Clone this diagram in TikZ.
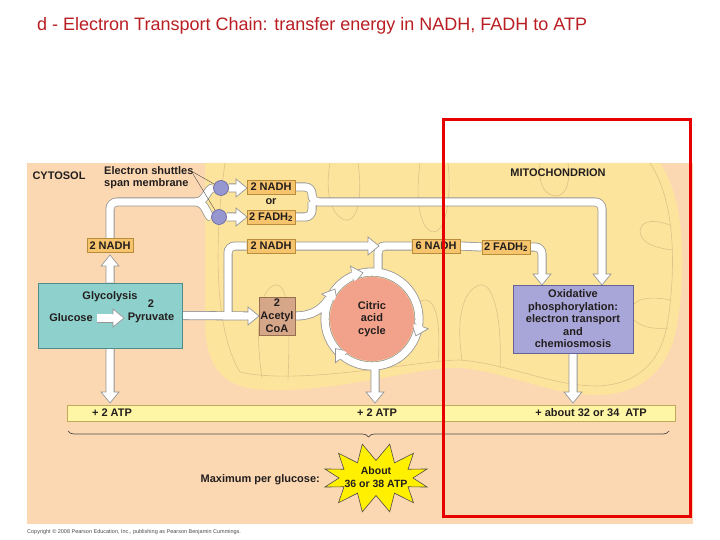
\documentclass[tikz,border=0pt]{standalone}
\usepackage{fontspec}
\setmainfont{Liberation Sans}
\usetikzlibrary{decorations.pathreplacing,calc}
\pgfdeclarelayer{back}
\pgfdeclarelayer{tubes}
\pgfsetlayers{back,tubes,main}
\definecolor{peach}{RGB}{251,216,178}
\definecolor{mito}{RGB}{253,228,156}
\definecolor{crista}{RGB}{222,194,135}
\definecolor{nadhfill}{RGB}{246,196,108}
\definecolor{nadhline}{RGB}{185,140,60}
\definecolor{acfill}{RGB}{214,166,136}
\definecolor{acline}{RGB}{150,110,80}
\definecolor{glyfill}{RGB}{142,208,204}
\definecolor{glyline}{RGB}{80,140,140}
\definecolor{oxfill}{RGB}{168,166,216}
\definecolor{oxline}{RGB}{100,98,150}
\definecolor{cacfill}{RGB}{242,162,138}
\definecolor{shutfill}{RGB}{150,150,208}
\definecolor{shutline}{RGB}{100,100,160}
\definecolor{atpfill}{RGB}{255,246,165}
\definecolor{atpline}{RGB}{190,170,90}
\definecolor{burst}{RGB}{255,240,0}
\definecolor{ink}{RGB}{35,30,30}
\definecolor{titlered}{RGB}{185,30,35}
\definecolor{boxred}{RGB}{230,0,0}
\definecolor{tubeline}{RGB}{150,150,150}
\newcommand\fathead[3]{%
  \begin{scope}[shift={({#1},{#2})},rotate=#3]
    \fill[white] (0.3,0) -- (-11,9) -- (-11,-9) -- cycle;
    \draw[tubeline,line width=0.7pt,line join=miter] (-11,3.7) -- (-11,9) -- (0,0) -- (-11,-9) -- (-11,-3.7);
  \end{scope}}
\newcommand\tubeset{
 (gly.north) -- (110,264)
 (nadhc.north) |- (200,202)
 (196,202) .. controls (206,202) and (207,188) .. (c1.west)
 (196,202) .. controls (206,202) and (207,217) .. (c2.west)
 (c1.east) -- (238,188)
 (c2.east) -- (238,217)
 (nadh1.east) -- (312,187) -- (312,202) -- (602,202) -- (602,276)
 (fadh1.east) -- (312,217) -- (312,202)
 (gly.east) -- (250,316)
 (228,316) -- (228,246) -- (nadh2.west)
 (nadh2.east) -- (370,246)
 (378,274) -- (378,246) -- (nadh6.west)
 (nadh6.east) -- (fadh2.west)
 (fadh2.east) -- (542,247) -- (542,276)
 (acoa.east) .. controls (313,316) and (322,309) .. (329.5,298)
 (372,319) circle[radius=47]
 (gly.south) -- (110,394)
 (375,364) -- (375,394)
 (ox.south) -- (573,394)
}
\tikzset{
 lbl/.style={font=\fontsize{11}{13}\selectfont\bfseries, text=ink, inner sep=0pt},
 nbox/.style={lbl, fill=nadhfill, draw=nadhline, line width=0.8pt, minimum width=48pt, minimum height=14pt},
 tubeo/.style={draw=tubeline, line width=9pt, rounded corners=7pt},
 tubei/.style={draw=white, line width=7.4pt, rounded corners=7pt},
 cristal/.style={draw=crista, line width=0.6pt},
 shuttle/.style={circle, fill=shutfill, draw=shutline, line width=0.6pt, minimum size=15pt, inner sep=0pt},
}
\begin{document}
\begin{tikzpicture}[x=1pt,y=-1pt]
\useasboundingbox (0,0) rectangle (720,540);

% ---------- nodes ----------
\node[anchor=west, font=\fontsize{18}{21}\selectfont, text=titlered, inner sep=0pt] (title) at (37,26) {d - Electron Transport Chain: transfer energy in NADH, FADH to ATP};
\node[lbl] (cyt) at (59,176) {CYTOSOL};
\node[lbl, anchor=west, align=left, font=\fontsize{11}{12}\selectfont\bfseries] (shut) at (104,178) {Electron shuttles\\span membrane};
\node[lbl] (mitolbl) at (558,173) {MITOCHONDRION};
\node[shuttle] (c1) at (221,188) {};
\node[shuttle] (c2) at (219,217) {};
\node[nbox] (nadh1) at (271,187) {2 NADH};
\node[lbl] (or) at (271,202) {or};
\node[nbox] (fadh1) at (271,217) {2 FADH\textsubscript{2}};
\node[nbox, minimum width=46pt] (nadhc) at (110,245.5) {2 NADH};
\node[nbox] (nadh2) at (271,246) {2 NADH};
\node[nbox] (nadh6) at (436,246) {6 NADH};
\node[nbox] (fadh2) at (506,247) {2 FADH\textsubscript{2}};
\node[fill=glyfill, draw=glyline, line width=0.8pt, minimum width=144pt, minimum height=65pt, inner sep=0pt] (gly) at (110,315.5) {};
\node[lbl] (glyt) at (110,297) {Glycolysis};
\node[lbl] (two) at (151,304) {2};
\node[lbl] (glc) at (71,318) {Glucose};
\node[lbl] (pyr) at (151,318) {Pyruvate};
% glucose -> pyruvate arrow (inside the glycolysis box)
\draw[tubeline, line width=9pt] (97,318) -- (114,318);
\draw[white, line width=7.4pt] (97,318) -- (114,318);
\fathead{124}{318}{0}
\node[lbl, fill=acfill, draw=acline, line width=0.8pt, minimum width=36pt, minimum height=38pt, align=center, inner sep=1pt] (acoa) at (277,316) {2\\Acetyl\\CoA};
\node[lbl, circle, fill=cacfill, minimum size=84pt, align=center, font=\fontsize{11}{12.5}\selectfont\bfseries] (cac) at (372,319) {Citric\\acid\\cycle};
\node[lbl, fill=oxfill, draw=oxline, line width=0.8pt, minimum width=120pt, minimum height=68pt, align=center, font=\fontsize{11}{12.5}\selectfont\bfseries] (ox) at (573,319) {Oxidative\\phosphorylation:\\electron transport\\and\\chemiosmosis};
\node[fill=atpfill, draw=atpline, line width=0.8pt, minimum width=608pt, minimum height=16pt, inner sep=0pt] (atp) at (371,413) {};
\node[lbl] (atp1) at (112,413) {+ 2 ATP};
\node[lbl] (atp2) at (377,413) {+ 2 ATP};
\node[lbl] (atp3) at (591,413) {+ about 32 or 34~~ATP};
\draw[ink!80, line width=0.7pt, decorate, decoration={brace, amplitude=6pt, mirror}] (68,431) -- (669,431);
\node[lbl, anchor=east] (maxg) at (320,480) {Maximum per glucose:};
\begin{scope}[shift={(376,478)}]
 \filldraw[fill=burst, draw=ink!80, line width=0.6pt] plot[samples at={0,15,...,345}, variable=\a] ({ifthenelse(mod(\a,30)==15,53,37)*cos(\a)}, {ifthenelse(mod(\a,30)==15,35,17.5)*sin(\a)}) -- cycle;
\end{scope}
\node[lbl, align=center, font=\fontsize{10.5}{13}\selectfont\bfseries] (about) at (376,477) {About\\36 or 38 ATP};
\node[anchor=west, font=\fontsize{5.5}{6}\selectfont, text=black!70, inner sep=0pt] (copy) at (27,532) {Copyright © 2008 Pearson Education, Inc., publishing as Pearson Benjamin Cummings.};
\draw[ink!80, line width=0.4pt] (193,172) -- (c1.150);
\draw[ink!80, line width=0.4pt] (193,174) -- (c2.120);

% ---------- background ----------
\begin{pgfonlayer}{back}
 \fill[white] (0,0) rectangle (720,540);
 \fill[peach] (27,163) rectangle (693,524);
 \fill[mito] (205,163) -- (205,320) .. controls (205,370) and (225,390) .. (270,390) .. controls (340,392) and (420,366) .. (460,368) .. controls (510,372) and (550,396) .. (600,395) .. controls (640,394) and (668,370) .. (676,330) .. controls (684,290) and (684,240) .. (678,210) .. controls (674,190) and (668,175) .. (660,163) -- cycle;
 \draw[cristal] (225,163) .. controls (214,240) and (214,330) .. (240,372) .. controls (300,386) and (420,360) .. (460,360) .. controls (510,364) and (550,386) .. (598,386) .. controls (640,384) and (662,360) .. (668,320) .. controls (674,280) and (674,240) .. (668,210) .. controls (664,190) and (658,175) .. (650,163);
 \draw[cristal] (262,378) .. controls (255,330) and (258,290) .. (275,285) .. controls (290,282) and (290,330) .. (288,380);
 \draw[cristal] (330,163) .. controls (325,190) and (330,215) .. (345,220) .. controls (360,222) and (362,190) .. (358,163);
 \draw[cristal] (420,163) .. controls (415,200) and (420,228) .. (432,232) .. controls (445,234) and (452,200) .. (448,163);
 \draw[cristal] (462,360) .. controls (456,320) and (462,290) .. (480,285) .. controls (496,282) and (502,330) .. (500,368);
 \draw[cristal] (670,300) .. controls (645,295) and (632,300) .. (630,312) .. controls (632,325) and (650,330) .. (668,328);
 \draw[cristal] (670,225) .. controls (650,218) and (640,222) .. (640,232) .. controls (642,245) and (658,248) .. (672,250);
 \draw[cristal] (540,163) .. controls (538,185) and (545,195) .. (555,196) .. controls (568,196) and (570,180) .. (568,163);
 \draw[cristal] (400,364) .. controls (398,340) and (410,300) .. (425,300) .. controls (440,300) and (440,340) .. (438,361);
\end{pgfonlayer}

% ---------- tubes and arrowheads ----------
\begin{pgfonlayer}{tubes}
 \draw[tubeo] \tubeset;
 \draw[tubei] \tubeset;
 \fathead{110}{255}{90}
 \fathead{247}{188}{0}
 \fathead{247}{217}{0}
 \fathead{602}{285}{-90}
 \fathead{542}{285}{-90}
 \fathead{259}{316}{0}
 \fathead{379}{246}{0}
 \fathead{335}{289}{60}
 \fathead{372+47*cos(101)}{319-47*sin(101)}{11}
 \fathead{372+47*cos(-21)}{319-47*sin(-21)}{-111}
 \fathead{372+47*cos(219)}{319-47*sin(219)}{129}
 \fathead{110}{403}{-90}
 \fathead{375}{403}{-90}
 \fathead{573}{403}{-90}
\end{pgfonlayer}

\draw[boxred, line width=3pt] (443,120) rectangle (690,516);
\end{tikzpicture}
\end{document}
